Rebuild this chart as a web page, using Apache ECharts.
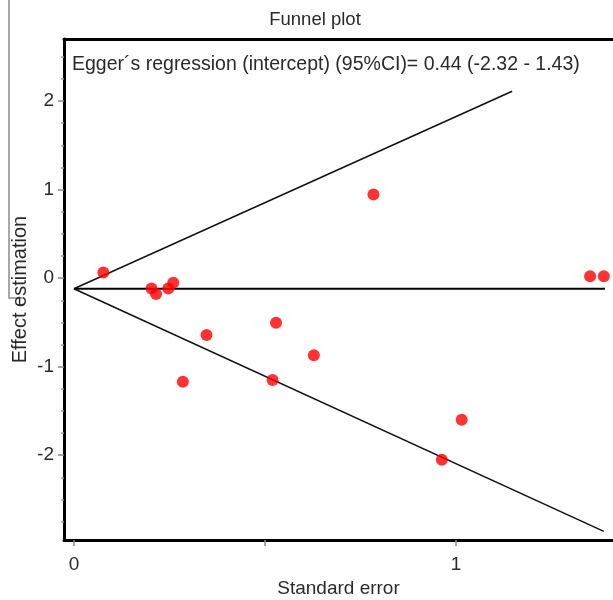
<!DOCTYPE html>
<html>
<head>
<meta charset="utf-8">
<script src="https://cdn.jsdelivr.net/npm/echarts@6/dist/echarts.min.js"></script>
<style>
  html, body { margin: 0; padding: 0; background: #fff; }
  #chart { width: 613px; height: 600px; }
</style>
</head>
<body>
<div id="chart"></div>
<script>
// standard error / effect estimate of each study
const seVals = [0.077, 0.203, 0.215, 0.247, 0.26, 0.347, 0.285, 0.529, 0.52, 0.628, 0.784, 0.963, 1.015, 1.351, 1.387]
const effectVals = [0.064, -0.116, -0.18, -0.116, -0.053, -0.643, -1.17, -0.505, -1.15, -0.87, 0.945, -2.05, -1.6, 0.02, 0.02]

// funnel (pseudo 95% limits) and pooled estimate line
const upperLine = [[0, -0.12], [1.147, 2.11]]
const lowerLine = [[0, -0.12], [1.387, -2.86]]
const pooledLine = [[0, -0.12], [1.39, -0.12]]

// ticks
const xTicks = [0, 0.5, 1]
const xTickLabels = [0, 1]
const yTickLabels = [-2, -1, 0, 1, 2]
const yMinorTicks = [-2.75, -2.5, -2.25, -1.75, -1.5, -1.25, -0.75, -0.5, -0.25, 0.25, 0.5, 0.75, 1.25, 1.5, 1.75, 2.25, 2.5]

const titleText = 'Funnel plot'
const eggerText = 'Egger´s regression (intercept) (95%CI)= 0.44 (-2.32 - 1.43)'

const FONT = 'Liberation Sans, Arial, sans-serif'
const TXT = '#2a2a2a'

const chart = echarts.init(document.getElementById('chart'))

const points = seVals.map((se, i) => [se, effectVals[i]])

const option = {
  animation: false,
  backgroundColor: '#fff',
  textStyle: { fontFamily: FONT },
  title: {
    text: titleText,
    left: 310,
    textAlign: 'center',
    top: 5,
    textStyle: { fontSize: 18.5, fontWeight: 'normal', color: TXT, fontFamily: FONT }
  },
  grid: {
    left: 64,
    top: 39,
    right: 0,
    bottom: 60,
    outerBoundsMode: 'none'
  },
  xAxis: [
    {
      type: 'value',
      min: -0.026,
      max: 1.411,
      name: 'Standard error',
      nameLocation: 'middle',
      nameGap: 39,
      nameMoveOverlap: false,
      nameTextStyle: { fontSize: 19, color: TXT },
      axisLine: { show: true, onZero: false, lineStyle: { color: '#000', width: 3 } },
      axisTick: {
        show: true,
        customValues: xTicks,
        length: 6,
        lineStyle: { color: '#888', width: 1.5 }
      },
      axisLabel: {
        customValues: xTickLabels,
        margin: 15,
        fontSize: 19,
        color: TXT
      },
      splitLine: { show: false }
    },
    {
      // top frame line
      type: 'value',
      position: 'top',
      min: -0.026,
      max: 1.411,
      axisLine: { show: true, onZero: false, lineStyle: { color: '#000', width: 3 } },
      axisTick: { show: false },
      axisLabel: { show: false },
      splitLine: { show: false }
    }
  ],
  yAxis: [
    {
      type: 'value',
      min: -2.957,
      max: 2.7,
      name: 'Effect estimation',
      nameLocation: 'middle',
      nameGap: 34,
      nameMoveOverlap: false,
      nameTextStyle: { fontSize: 20, color: TXT },
      axisLine: { show: true, onZero: false, lineStyle: { color: '#000', width: 3 } },
      axisTick: {
        show: true,
        customValues: yTickLabels,
        length: 6,
        lineStyle: { color: '#888', width: 1.5 }
      },
      axisLabel: {
        customValues: yTickLabels,
        margin: 10,
        fontSize: 19,
        color: TXT
      },
      splitLine: { show: false }
    },
    {
      // minor ticks
      type: 'value',
      position: 'left',
      min: -2.957,
      max: 2.7,
      axisLine: { show: false, onZero: false },
      axisTick: {
        show: true,
        customValues: yMinorTicks,
        length: 3,
        lineStyle: { color: '#999', width: 1.5 }
      },
      axisLabel: { show: false },
      splitLine: { show: false }
    }
  ],
  graphic: [
    {
      type: 'text',
      left: 72,
      top: 55,
      style: { text: eggerText, fontSize: 19.5, fill: TXT, fontFamily: FONT }
    },
    {
      type: 'polyline',
      shape: { points: [[9, 0], [9, 298], [23, 298]] },
      style: { stroke: '#8a8a8a', lineWidth: 1.5, fill: null }
    }
  ],
  series: [
    {
      type: 'line',
      data: upperLine,
      symbol: 'none',
      lineStyle: { color: '#111', width: 1.5 },
      z: 2
    },
    {
      type: 'line',
      data: lowerLine,
      symbol: 'none',
      lineStyle: { color: '#111', width: 1.5 },
      z: 2
    },
    {
      type: 'line',
      data: pooledLine,
      symbol: 'none',
      lineStyle: { color: '#000', width: 2 },
      z: 2
    },
    {
      type: 'scatter',
      data: points,
      symbol: 'circle',
      symbolSize: 12,
      itemStyle: { color: '#ff0000' },
      z: 3
    }
  ]
}

chart.setOption(option)
</script>
</body>
</html>
